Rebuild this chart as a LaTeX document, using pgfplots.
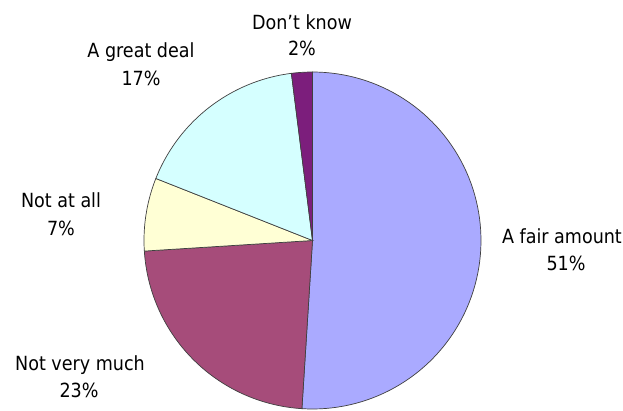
\documentclass[border=0pt]{standalone}
\usepackage{fontspec}
\setmainfont{DejaVu Sans Condensed}
\usepackage{pgfplots}
\pgfplotsset{compat=1.18}

\definecolor{fairamt}{RGB}{170,170,255}
\definecolor{notmuch}{RGB}{166,76,122}
\definecolor{notall}{RGB}{255,255,213}
\definecolor{greatdeal}{RGB}{213,255,255}
\definecolor{dontknow}{RGB}{124,30,124}

% pie centre and radius in picture pixels (y grows downwards)
\def\cx{312.5}
\def\cy{240.5}
\def\rr{168.5}

\begin{document}
\begin{tikzpicture}
\begin{axis}[scale only axis, width=623pt, height=410pt,
  xmin=0, xmax=623, ymin=0, ymax=410, y dir=reverse,
  hide axis, clip=false,
  every axis plot/.append style={draw=black!75, line width=0.7pt, samples=90, variable=\t}]
% wedges, domain = cumulative percentages, clockwise from 12 o'clock
\addplot[fill=fairamt, domain=0:51]
  ({\cx+\rr*cos(90-3.6*\t)}, {\cy-\rr*sin(90-3.6*\t)}) -- (axis cs:\cx,\cy) -- cycle;
\addplot[fill=notmuch, domain=51:74]
  ({\cx+\rr*cos(90-3.6*\t)}, {\cy-\rr*sin(90-3.6*\t)}) -- (axis cs:\cx,\cy) -- cycle;
\addplot[fill=notall, domain=74:81, samples=30]
  ({\cx+\rr*cos(90-3.6*\t)}, {\cy-\rr*sin(90-3.6*\t)}) -- (axis cs:\cx,\cy) -- cycle;
\addplot[fill=greatdeal, domain=81:98]
  ({\cx+\rr*cos(90-3.6*\t)}, {\cy-\rr*sin(90-3.6*\t)}) -- (axis cs:\cx,\cy) -- cycle;
\addplot[fill=dontknow, domain=98:100, samples=10]
  ({\cx+\rr*cos(90-3.6*\t)}, {\cy-\rr*sin(90-3.6*\t)}) -- (axis cs:\cx,\cy) -- cycle;

\begin{scope}[every node/.style={anchor=base, inner sep=0pt, font=\fontsize{19.5}{24}\selectfont}]
\node at (axis cs:302,29) {Don't know};
\node at (axis cs:302,55) {2\%};
\node at (axis cs:141,57) {A great deal};
\node at (axis cs:141,85) {17\%};
\node at (axis cs:61,207) {Not at all};
\node at (axis cs:61,235) {7\%};
\node at (axis cs:562,243) {A fair amount};
\node at (axis cs:566,270) {51\%};
\node at (axis cs:80,370) {Not very much};
\node at (axis cs:79,397) {23\%};
\end{scope}
\coordinate (bl) at (axis cs:0,410);
\coordinate (tr) at (axis cs:623,0);
\end{axis}
\pgfresetboundingbox
\path[use as bounding box] (bl) rectangle (tr);
\end{tikzpicture}
\end{document}
